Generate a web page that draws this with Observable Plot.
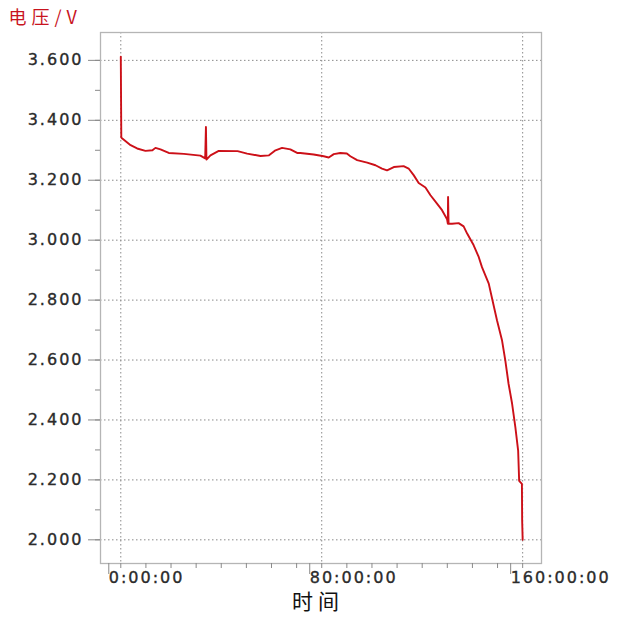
<!DOCTYPE html>
<html>
<head>
<meta charset="utf-8">
<script src="https://cdn.jsdelivr.net/npm/d3@7"></script>
<script src="https://cdn.jsdelivr.net/npm/@observablehq/plot@0.6"></script>
<style>
  html, body { margin: 0; padding: 0; background: #fff; }
  #chart svg [aria-label="x-axis tick label"] text,
  #chart svg [aria-label="y-axis tick label"] text {
    letter-spacing: 2px; stroke: #2b2b2b; stroke-width: 0.35px;
  }
</style>
</head>
<body>
<div id="chart"></div>
<script>
// Discharge curve: elapsed time (hours) and cell voltage (V)
const hours = [
  0, 0.2, 0.6, 3.9, 6.5, 9.8, 12.6, 13.8, 15.8, 19.1, 25.1, 31.7, 33.6, 33.9, 34.1,
  35.7, 39.0, 46.5, 50.3, 55.6, 59.0, 61.6, 64.2, 67.5, 70.2, 71.5, 76.8, 80.8, 82.8,
  84.8, 87.4, 90.0, 91.4, 94.1, 98.1, 101.4, 104.0, 106.0, 108.7, 112.6, 114.6, 116.6,
  118.6, 121.3, 123.3, 125.9, 127.9, 129.9, 130.2, 130.3, 130.5, 131.9, 134.5, 136.5,
  137.9, 140.5, 142.5, 143.8, 146.5, 147.8, 149.8, 151.8, 153.1, 154.4, 155.8, 157.1,
  158.2, 158.6, 159.7, 159.8, 160.0
];
const volts = [
  3.612, 3.343, 3.339, 3.317, 3.306, 3.298, 3.300, 3.308, 3.303, 3.291, 3.288, 3.282, 3.273, 3.378, 3.269,
  3.283, 3.298, 3.297, 3.289, 3.281, 3.283, 3.300, 3.308, 3.303, 3.291, 3.291, 3.286, 3.280, 3.276,
  3.287, 3.291, 3.289, 3.280, 3.267, 3.259, 3.250, 3.239, 3.233, 3.244, 3.247, 3.239, 3.217,
  3.191, 3.176, 3.150, 3.122, 3.100, 3.070, 3.055, 3.144, 3.055, 3.055, 3.057, 3.046,
  3.022, 2.983, 2.944, 2.910, 2.855, 2.806, 2.732, 2.665, 2.598, 2.520, 2.454, 2.375,
  2.298, 2.197, 2.187, 2.064, 2.000
];

// Axis ticks and labels
const xTicks = [0, 80, 160];
const xTickLabels = ["0:00:00", "80:00:00", "160:00:00"];
const xMinorTicks = d3.range(0, 161, 10);
const yTicks = [2.0, 2.2, 2.4, 2.6, 2.8, 3.0, 3.2, 3.4, 3.6];
const yTickLabels = ["2.000", "2.200", "2.400", "2.600", "2.800", "3.000", "3.200", "3.400", "3.600"];
const yMinorTicks = d3.range(19, 37).map(d => d / 10);
const yTitle = "电压/V";
const xTitle = "时间";

const rows = hours.map((t, i) => ({t, v: volts[i]}));

const grid = {stroke: "#8a8a8a", strokeOpacity: 1, strokeWidth: 1, strokeDasharray: "1.5,2.5"};

const chart = Plot.plot({
  width: 617,
  height: 637,
  marginLeft: 100,
  marginRight: 76,
  marginTop: 32,
  marginBottom: 74,
  style: {fontFamily: "DejaVu Sans", fontSize: "16px", color: "#2b2b2b", background: "#fff"},
  x: {domain: [-8.08, 167.5]},
  y: {domain: [1.921, 3.693]},
  marks: [
    Plot.gridX(xTicks, grid),
    Plot.gridY(yTicks, grid),
    Plot.frame({stroke: "#b5b5b5", strokeWidth: 1.3}),
    Plot.axisX(xMinorTicks, {tickSize: 5, tickFormat: () => "", stroke: "#8a8a8a", label: null}),
    Plot.axisX(xTicks, {
      tickSize: 11, tickPadding: -3, stroke: "#8a8a8a",
      tickFormat: d => xTickLabels[xTicks.indexOf(d)],
      textAnchor: "start", dx: -12, label: null
    }),
    Plot.axisY(yMinorTicks.filter(d => d >= 1.95 && d <= 3.65), {tickSize: 5, tickFormat: () => "", stroke: "#8a8a8a", label: null}),
    Plot.axisY(yTicks, {
      tickSize: 12, tickPadding: 5, stroke: "#8a8a8a",
      tickFormat: d => yTickLabels[yTicks.indexOf(d)],
      label: null
    }),
    Plot.line(rows, {x: "t", y: "v", stroke: "#cc1018", strokeWidth: 1.9, curve: "linear"}),
    Plot.text([yTitle], {
      frameAnchor: "top-left", dx: -92, dy: -14.5, textAnchor: "start", lineAnchor: "middle",
      fill: "#c8141e", fontSize: 18, fontFamily: "Noto Sans CJK SC"
    }),
    Plot.text([xTitle], {
      frameAnchor: "bottom", dx: -3, dy: 39, lineAnchor: "middle",
      fill: "#111", fontSize: 21, fontFamily: "Noto Sans CJK SC"
    })
  ]
});

document.getElementById("chart").append(chart);
// wider spacing for the CJK titles
chart.querySelectorAll("text").forEach(t => {
  if (t.textContent === yTitle) t.setAttribute("letter-spacing", "5");
  if (t.textContent === xTitle) t.setAttribute("letter-spacing", "5");
});
</script>
</body>
</html>
